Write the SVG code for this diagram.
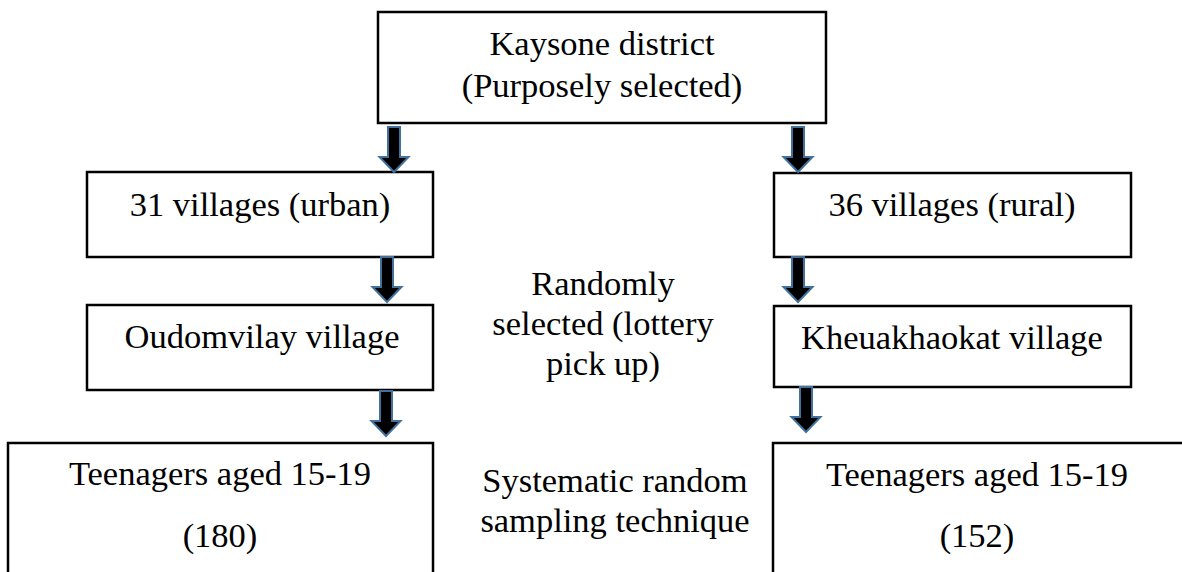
<svg xmlns="http://www.w3.org/2000/svg" width="1182" height="572" viewBox="0 0 1182 572">
  <style>
    .box { fill: #ffffff; stroke: #000000; stroke-width: 2.5; }
    .lbl { font-size: 34.5px; fill: #000000; text-anchor: middle; }
    .arrow { fill: #000000; stroke: #41719c; stroke-width: 2; stroke-linejoin: miter; }
  </style>
  <defs>
    <!-- block arrow pointing down; origin at the shaft top centre, length 45 -->
    <path id="dnArrow" d="M -6 0 H 6 V 30 H 14.5 L 0 45 L -14.5 30 H -6 Z"/>
  </defs>

  <rect width="1182" height="572" fill="#ffffff"/>

  <g font-family="Times New Roman, Liberation Serif, Tinos, DejaVu Serif, serif">
  <g id="district">
    <rect class="box" x="378" y="12" width="448" height="111"/>
    <text class="lbl" x="602" y="55">Kaysone district</text>
    <text class="lbl" x="602" y="97">(Purposely selected)</text>
  </g>

  <g id="urban-villages">
    <rect class="box" x="87" y="172" width="346" height="85"/>
    <text class="lbl" x="260" y="216">31 villages (urban)</text>
  </g>

  <g id="rural-villages">
    <rect class="box" x="774" y="173" width="357" height="84"/>
    <text class="lbl" x="952" y="216">36 villages (rural)</text>
  </g>

  <g id="oudomvilay">
    <rect class="box" x="87" y="305" width="346" height="85"/>
    <text class="lbl" x="262" y="348">Oudomvilay village</text>
  </g>

  <g id="kheuakhaokat">
    <rect class="box" x="774" y="306" width="357" height="81"/>
    <text class="lbl" x="952" y="349">Kheuakhaokat village</text>
  </g>

  <g id="teens-urban">
    <rect class="box" x="8" y="443" width="425" height="150"/>
    <text class="lbl" x="220" y="485">Teenagers aged 15-19</text>
    <text class="lbl" x="220" y="547">(180)</text>
  </g>

  <g id="teens-rural">
    <rect class="box" x="773" y="443" width="430" height="150"/>
    <text class="lbl" x="977" y="486">Teenagers aged 15-19</text>
    <text class="lbl" x="977" y="547">(152)</text>
  </g>

  <g id="note-lottery">
    <text class="lbl" x="603" y="295">Randomly</text>
    <text class="lbl" x="603" y="335">selected (lottery</text>
    <text class="lbl" x="603" y="375">pick up)</text>
  </g>

  <g id="note-systematic">
    <text class="lbl" x="615" y="492">Systematic random</text>
    <text class="lbl" x="615" y="532">sampling technique</text>
  </g>
  </g>

  <g id="connectors">
    <use href="#dnArrow" class="arrow" transform="translate(394,127)"/>
    <use href="#dnArrow" class="arrow" transform="translate(387,257)"/>
    <use href="#dnArrow" class="arrow" transform="translate(386,391)"/>
    <use href="#dnArrow" class="arrow" transform="translate(798,127)"/>
    <use href="#dnArrow" class="arrow" transform="translate(798,257)"/>
    <use href="#dnArrow" class="arrow" transform="translate(806,387)"/>
  </g>
</svg>
